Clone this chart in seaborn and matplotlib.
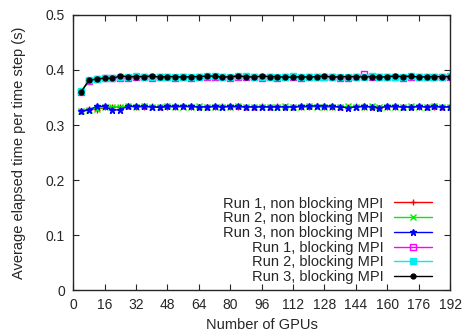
import numpy as np
import pandas as pd
import seaborn as sns
import matplotlib
matplotlib.use("Agg")
import matplotlib.pyplot as plt

# number of GPUs
gpus = list(range(4, 193, 4))

# average elapsed time per time step (s)
nb_run1 = [0.325, 0.329, 0.328, 0.332, 0.333, 0.333, 0.334, 0.333, 0.333, 0.334, 0.333, 0.333,
           0.333, 0.334, 0.333, 0.333, 0.333, 0.333, 0.334, 0.333, 0.333, 0.333, 0.333, 0.334,
           0.333, 0.334, 0.333, 0.333, 0.333, 0.333, 0.334, 0.333, 0.333, 0.333, 0.332, 0.334,
           0.333, 0.333, 0.331, 0.333, 0.333, 0.333, 0.332, 0.333, 0.333, 0.333, 0.333, 0.333]
nb_run2 = [0.325, 0.328, 0.330, 0.332, 0.333, 0.333, 0.334, 0.333, 0.334, 0.333, 0.333, 0.334,
           0.333, 0.333, 0.333, 0.334, 0.333, 0.333, 0.333, 0.333, 0.334, 0.333, 0.333, 0.333,
           0.333, 0.333, 0.334, 0.333, 0.333, 0.334, 0.333, 0.333, 0.333, 0.333, 0.334, 0.333,
           0.333, 0.334, 0.333, 0.333, 0.333, 0.333, 0.334, 0.333, 0.333, 0.334, 0.333, 0.333]
nb_run3 = [0.325, 0.327, 0.334, 0.334, 0.327, 0.328, 0.334, 0.334, 0.334, 0.333, 0.332, 0.334,
           0.334, 0.334, 0.334, 0.333, 0.333, 0.334, 0.333, 0.334, 0.334, 0.333, 0.333, 0.333,
           0.333, 0.333, 0.333, 0.333, 0.334, 0.334, 0.335, 0.335, 0.334, 0.333, 0.331, 0.333,
           0.334, 0.333, 0.331, 0.334, 0.334, 0.333, 0.333, 0.334, 0.333, 0.334, 0.333, 0.333]
b_run1 = [0.360, 0.380, 0.383, 0.385, 0.385, 0.386, 0.385, 0.387, 0.387, 0.386, 0.387, 0.388,
          0.386, 0.387, 0.386, 0.387, 0.388, 0.388, 0.387, 0.386, 0.387, 0.387, 0.388, 0.386,
          0.387, 0.386, 0.387, 0.387, 0.386, 0.387, 0.388, 0.387, 0.387, 0.386, 0.386, 0.387,
          0.392, 0.387, 0.387, 0.387, 0.387, 0.386, 0.388, 0.388, 0.387, 0.387, 0.387, 0.388]
b_run2 = [0.361, 0.381, 0.384, 0.385, 0.386, 0.387, 0.388, 0.389, 0.388, 0.388, 0.387, 0.388,
          0.388, 0.387, 0.388, 0.388, 0.389, 0.389, 0.388, 0.388, 0.389, 0.389, 0.388, 0.387,
          0.387, 0.388, 0.388, 0.389, 0.388, 0.388, 0.388, 0.388, 0.388, 0.388, 0.387, 0.388,
          0.387, 0.389, 0.387, 0.388, 0.388, 0.388, 0.389, 0.388, 0.388, 0.388, 0.388, 0.389]
b_run3 = [0.360, 0.381, 0.384, 0.385, 0.385, 0.389, 0.388, 0.388, 0.388, 0.389, 0.387, 0.388,
          0.388, 0.387, 0.388, 0.388, 0.389, 0.389, 0.387, 0.388, 0.389, 0.388, 0.387, 0.389,
          0.388, 0.388, 0.387, 0.387, 0.388, 0.387, 0.388, 0.389, 0.387, 0.388, 0.388, 0.388,
          0.387, 0.388, 0.387, 0.388, 0.389, 0.388, 0.389, 0.387, 0.388, 0.388, 0.388, 0.388]

labels = ["Run 1, non blocking MPI", "Run 2, non blocking MPI", "Run 3, non blocking MPI",
          "Run 1, blocking MPI", "Run 2, blocking MPI", "Run 3, blocking MPI"]
series = [nb_run1, nb_run2, nb_run3, b_run1, b_run2, b_run3]

colors = ["#ff0000", "#00ee00", "#0000ff", "#ff00ff", "#00eeee", "#000000"]
markers = ["+", "x", "*", "s", "s", "o"]
fills = ["full", "full", "full", "none", "full", "full"]
msizes = [5, 4, 5, 4, 4, 3.5]

sns.set_style("ticks")
plt.rcParams["font.family"] = ["Liberation Sans", "DejaVu Sans"]

fig = plt.figure(figsize=(4.66, 3.33), dpi=100)
ax = fig.add_axes([0.157, 0.129, 0.809, 0.826])

for i in range(6):
    df = pd.DataFrame({"gpus": gpus, "t": series[i]})
    sns.lineplot(data=df, x="gpus", y="t", ax=ax, color=colors[i], marker=markers[i],
                 fillstyle=fills[i], markersize=msizes[i], markeredgewidth=1,
                 markeredgecolor=colors[i], linewidth=1, label=labels[i])

ax.set_xlim(0, 192)
ax.set_ylim(0, 0.5)
ax.set_xticks(range(0, 193, 16))
ax.set_yticks([0, 0.1, 0.2, 0.3, 0.4, 0.5])
ax.set_yticklabels(["0", "0.1", "0.2", "0.3", "0.4", "0.5"])
ax.tick_params(direction="in", top=True, right=True, labelsize=10, length=4, width=0.8, pad=6)
for s in ax.spines.values():
    s.set_linewidth(1)
ax.set_xlabel("Number of GPUs", fontsize=10.5, labelpad=4)
ax.set_ylabel("Average elapsed time per time step (s)", fontsize=10.5, labelpad=14)

leg = ax.legend(loc="lower right", bbox_to_anchor=(0.968, 0.0), frameon=False,
                markerfirst=False, fontsize=10.5, handlelength=2.65, labelspacing=0.05,
                borderaxespad=0, handletextpad=0.7)
for t in leg.get_texts():
    t.set_ha("right")
leg._legend_box.align = "right"

fig.savefig("out.png", dpi=100)
